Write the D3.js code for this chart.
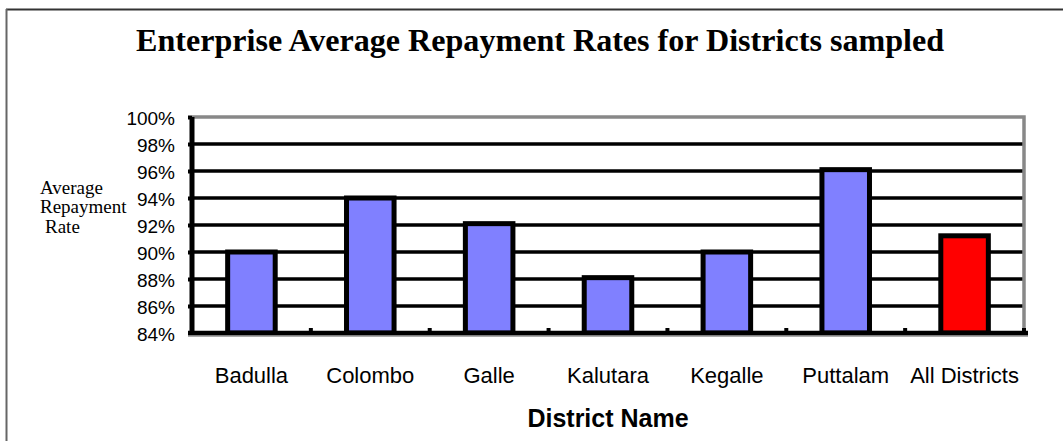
<!DOCTYPE html>
<html>
<head>
<meta charset="utf-8">
<script src="https://cdn.jsdelivr.net/npm/d3@7"></script>
<style>
  body { margin: 0; background: #fff; }
  svg { display: block; }
</style>
</head>
<body>
<div id="chart"></div>
<script>
// data
var districts = ["Badulla", "Colombo", "Galle", "Kalutara", "Kegalle", "Puttalam", "All Districts"];
var rates = [90.0, 94.0, 92.1, 88.1, 90.0, 96.1, 91.2];
var yTicks = [84, 86, 88, 90, 92, 94, 96, 98, 100];

(function autoexecute() {
  var W = 1063, H = 441;
  var margin = {top: 117, right: 39, bottom: 108, left: 192},
    width = W - margin.left - margin.right,
    height = H - margin.top - margin.bottom;

  var svg0 = d3.select("#chart")
    .append("svg")
      .attr("width", W)
      .attr("height", H);

  // page frame (top and left edge only)
  svg0.append("line")
    .attr("x1", 6).attr("x2", W).attr("y1", 9.5).attr("y2", 9.5)
    .attr("stroke", "#333").attr("stroke-width", 2);
  svg0.append("line")
    .attr("x1", 6.5).attr("x2", 6.5).attr("y1", 9).attr("y2", H)
    .attr("stroke", "#666").attr("stroke-width", 2);

  // title
  svg0.append("text")
    .attr("x", 540)
    .attr("y", 51)
    .attr("text-anchor", "middle")
    .attr("font-family", "Liberation Serif, Times New Roman, serif")
    .attr("font-weight", "bold")
    .attr("font-size", 32)
    .attr("textLength", 808)
    .attr("lengthAdjust", "spacingAndGlyphs")
    .text("Enterprise Average Repayment Rates for Districts sampled");

  var svg = svg0.append("g")
    .attr("transform", "translate(" + margin.left + "," + margin.top + ")");

  var x = d3.scaleBand()
    .domain(districts)
    .range([0, width])
    .paddingInner(0.6)
    .paddingOuter(0.3);

  var y = d3.scaleLinear()
    .domain([84, 100])
    .range([height, 0]);

  // gridlines
  svg.append("g")
    .selectAll("line")
    .data(yTicks.filter(function(d) { return d > 84 && d < 100; }))
    .join("line")
      .attr("x1", 0).attr("x2", width)
      .attr("y1", function(d) { return y(d); })
      .attr("y2", function(d) { return y(d); })
      .attr("stroke", "#000")
      .attr("stroke-width", 3.5);

  // top and right plot border (gray)
  svg.append("path")
    .attr("d", "M0," + y(100) + "H" + width + "V" + height)
    .attr("fill", "none")
    .attr("stroke", "#888")
    .attr("stroke-width", 3.5);

  // bars
  svg.append("g")
    .selectAll("rect")
    .data(districts)
    .join("rect")
      .attr("x", function(d) { return x(d); })
      .attr("y", function(d, i) { return y(rates[i]); })
      .attr("width", x.bandwidth())
      .attr("height", function(d, i) { return height - y(rates[i]); })
      .attr("fill", function(d, i) { return i === districts.length - 1 ? "#ff0000" : "#8080ff"; })
      .attr("stroke", "#000")
      .attr("stroke-width", 5);

  // Y axis
  var yAxis = svg.append("g")
    .call(d3.axisLeft(y)
      .tickValues(yTicks)
      .tickSize(4)
      .tickFormat(function(d) { return d + "%"; }));
  yAxis.select(".domain")
    .attr("stroke", "#000").attr("stroke-width", 5)
    .attr("d", "M0," + (height + 2) + "V0");
  yAxis.selectAll(".tick line").attr("stroke", "#000").attr("stroke-width", 4);
  yAxis.selectAll(".tick text")
    .attr("x", -17)
    .attr("dy", "0.38em")
    .attr("font-family", "Liberation Sans, Arial, sans-serif")
    .attr("font-size", 19)
    .attr("fill", "#000");

  // X axis
  svg.append("line")
    .attr("x1", -4).attr("x2", width + 4)
    .attr("y1", height + 2.5).attr("y2", height + 2.5)
    .attr("stroke", "#aaa").attr("stroke-width", 3);
  svg.append("line")
    .attr("x1", -4).attr("x2", width + 4)
    .attr("y1", height).attr("y2", height)
    .attr("stroke", "#000").attr("stroke-width", 4.5);

  // small boundary ticks between categories
  svg.append("g")
    .selectAll("rect")
    .data(d3.range(1, districts.length + 1))
    .join("rect")
      .attr("x", function(i) { return x.step() * i - 2; })
      .attr("y", height - 5)
      .attr("width", 4)
      .attr("height", 5)
      .attr("fill", "#000");

  svg.append("g")
    .selectAll("text")
    .data(districts)
    .join("text")
      .attr("x", function(d) { return x(d) + x.bandwidth() / 2; })
      .attr("y", height + 50)
      .attr("text-anchor", "middle")
      .attr("font-family", "Liberation Sans, Arial, sans-serif")
      .attr("font-size", 22)
      .text(function(d) { return d; });

  // X axis title
  svg.append("text")
    .attr("x", width / 2)
    .attr("y", height + 94)
    .attr("text-anchor", "middle")
    .attr("font-family", "Liberation Sans, Arial, sans-serif")
    .attr("font-weight", "bold")
    .attr("font-size", 25)
    .text("District Name");

  // Y axis title (three lines)
  var yt = svg0.append("text")
    .attr("font-family", "Liberation Serif, Times New Roman, serif")
    .attr("font-size", 19);
  yt.append("tspan").attr("x", 40).attr("y", 194).text("Average");
  yt.append("tspan").attr("x", 40).attr("y", 213).text("Repayment");
  yt.append("tspan").attr("x", 45).attr("y", 233).text("Rate");
})();
</script>
</body>
</html>
